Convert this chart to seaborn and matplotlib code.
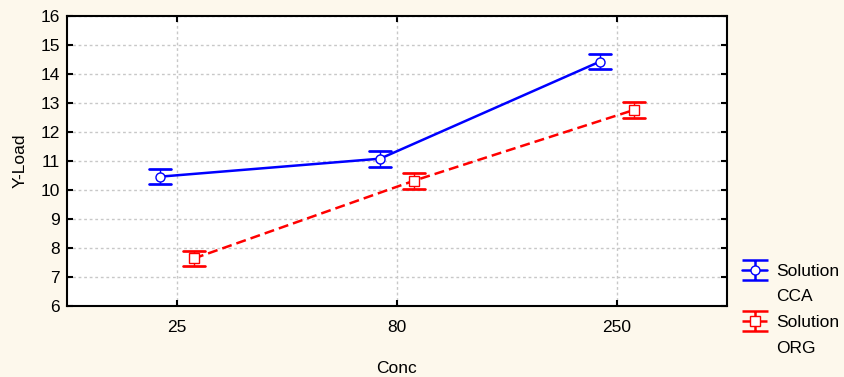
import numpy as np
import pandas as pd
import matplotlib
matplotlib.use("Agg")
import matplotlib.pyplot as plt
from matplotlib.lines import Line2D
from matplotlib.path import Path
from matplotlib.legend_handler import HandlerTuple
import seaborn as sns

# values
conc = ["25", "80", "250"]
solutions = ["CCA", "ORG"]
cca_mean = [10.46, 11.08, 14.43]
cca_err = [0.27, 0.27, 0.26]
org_mean = [7.64, 10.32, 12.76]
org_err = [0.26, 0.27, 0.28]

bg = "#fdf8ec"
colors = ["#0000ff", "#ff0000"]
fs = 12.5

sns.set_theme(style="white")
plt.rcParams.update({
    "font.family": ["Liberation Sans", "DejaVu Sans"],
    "font.size": fs,
    "text.color": "black",
    "axes.labelcolor": "black",
    "axes.edgecolor": "black",
    "axes.linewidth": 1.5,
    "xtick.color": "black",
    "ytick.color": "black",
    "xtick.direction": "in",
    "ytick.direction": "in",
    "xtick.major.size": 4,
    "ytick.major.size": 4,
    "xtick.major.width": 1.5,
    "ytick.major.width": 1.5,
})

# each group gets lower / centre / upper, so the mean is the centre and
# min-max gives the error bar
rows = []
for sol, means, errs in [(solutions[0], cca_mean, cca_err), (solutions[1], org_mean, org_err)]:
    for c, m, e in zip(conc, means, errs):
        for v in (m - e, m, m + e):
            rows.append({"Conc": c, "Y-Load": v, "Solution": sol})
df = pd.DataFrame(rows)

fig = plt.figure(figsize=(8.45, 3.77), dpi=100, facecolor=bg)
ax = fig.add_axes([67 / 845, 71 / 377, 660 / 845, 290 / 377])
ax.set_facecolor("white")

dash = (0, (4, 2))
sns.pointplot(
    data=df, x="Conc", y="Y-Load", hue="Solution",
    order=conc, hue_order=solutions, palette=colors,
    estimator="mean", errorbar=lambda v: (v.min(), v.max()),
    dodge=0.154, capsize=0.1,
    markers=["o", "s"], linestyles=["-", dash],
    linewidth=1.8, markersize=6.5, markeredgewidth=1,
    markerfacecolor="white",
    err_kws={"linewidth": 1},
    legend=False, ax=ax,
)

# thicker caps like the original, error lines beneath the markers
for ln in list(ax.lines):
    x = np.asarray(ln.get_xdata(), dtype=float)
    y = np.asarray(ln.get_ydata(), dtype=float)
    if np.isnan(x).any():
        ln.set_zorder(1.5)
        ln.set_linestyle("-")
        ax.plot(x[:2], y[:2], color=ln.get_color(), lw=1.9, zorder=1.5)
        ax.plot(x[-2:], y[-2:], color=ln.get_color(), lw=1.9, zorder=1.5)
    else:
        ln.set_zorder(3)

ax.set_xlim(-0.5, 2.5)
ax.set_ylim(6, 16)
ax.set_yticks(range(6, 17))
ax.grid(True, color="#c8c8c8", linestyle=(0, (2, 2)), linewidth=1)
ax.set_axisbelow(True)
for s in ax.spines.values():
    s.set_visible(True)
    s.set_color("black")
ax.tick_params(axis="both", which="both", top=True, right=True,
               bottom=True, left=True, labelsize=fs)
ax.tick_params(axis="x", pad=10)
ax.tick_params(axis="y", pad=5)
ax.set_xlabel("Conc", fontsize=fs, labelpad=19)
ax.set_ylabel("Y-Load", fontsize=fs, labelpad=9)

# legend glyph: error bar with the marker and line on top
ibeam = Path([(-1.3, -1), (1.3, -1), (0, -1), (0, 1), (-1.3, 1), (1.3, 1)],
             [Path.MOVETO, Path.LINETO, Path.MOVETO, Path.LINETO, Path.MOVETO, Path.LINETO])
handles = []
for col, mk, ls in zip(colors, ["o", "s"], ["-", dash]):
    bar = Line2D([], [], color=col, marker=ibeam, markersize=19,
                 markeredgewidth=1.8, linestyle="none")
    pt = Line2D([], [], color=col, marker=mk, markersize=6.5, markeredgewidth=1,
                markerfacecolor="white", linestyle=ls, linewidth=1.8)
    handles.append((bar, pt))
blank = Line2D([], [], linestyle="none")
leg_handles = [handles[0], blank, handles[1], blank]
leg_labels = ["Solution", solutions[0], "Solution", solutions[1]]
ax.legend(leg_handles, leg_labels, handler_map={tuple: HandlerTuple(ndivide=1)},
          loc="upper left", bbox_to_anchor=(1.023, 0.146),
          frameon=False, fontsize=fs, handlelength=1.45, labelspacing=0.6,
          handletextpad=0.5, borderaxespad=0, borderpad=0)

fig.savefig("out.png", dpi=100, facecolor=bg)
